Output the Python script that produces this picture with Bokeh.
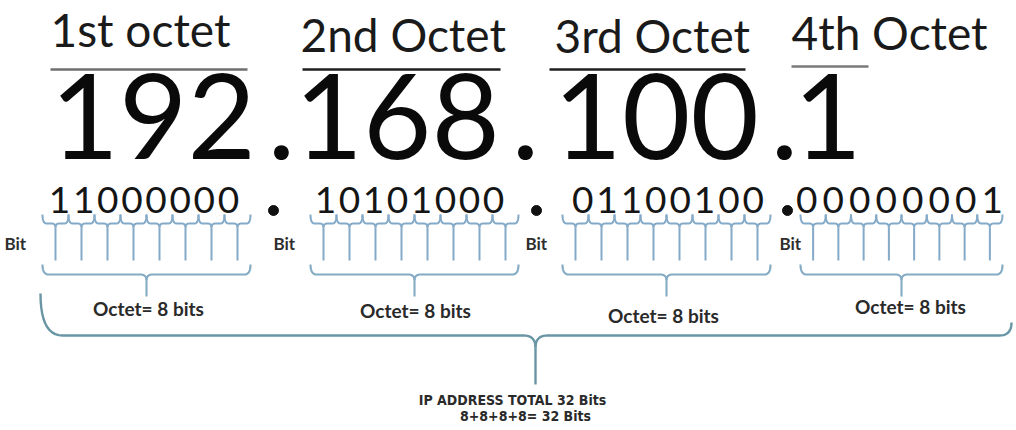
import numpy as np
from bokeh.plotting import figure
from bokeh.models import Range1d
from bokeh.core.properties import value
from bokeh.embed import file_html
from bokeh.resources import INLINE

# ---------------- data ----------------
octet_labels = ["1st octet", "2nd Octet", "3rd Octet", "4th Octet"]
decimal_values = ["192", "168", "100", "1"]
binary_values = ["11000000", "10101000", "01100100", "00000001"]
bit_label = "Bit"
octet_caption = "Octet= 8 bits"
total_line1 = "IP ADDRESS TOTAL 32 Bits"
total_line2 = "8+8+8+8= 32 Bits"

# ---------------- layout (reference pixel coordinates, measured from top) ----------------
label_x = [50, 300, 554, 791]
label_base = [47, 52, 53, 50]
underline_x0 = [50, 302, 549, 791]
underline_x1 = [247, 500, 745, 868]
underline_y = [69, 69, 69, 66]
underline_col = ["#6f6f6f", "#1e1e1e", "#1e1e1e", "#7a7a7a"]

dec_x = [50, 294, 553, 793]
dot_x = [267, 511, 770]
dec_base = 158

bin_x0 = [47, 313, 570, 793]
bin_x1 = [240, 505, 765, 1005]
bin_base = 213
bin_dot_x = [273, 536, 787]
bin_dot_y = 210

brace_x0 = [42, 310, 562, 800]
brace_x1 = [250, 518, 770, 1002]
bitlab_x = [4, 273, 525, 779]
cap_x = [148, 415, 663, 910]
cap_y = [308, 310, 315, 306]

W, H = 1016, 430


def Y(v):
    """reference pixel row -> data y (data y grows upward)"""
    return (H - np.asarray(v, dtype=float)).tolist()


def mid(base, size, k=0.36):
    """baseline row -> row of the visual middle of the capitals"""
    return [b - k * size for b in np.atleast_1d(base)]


p = figure(width=W, height=H, output_backend="svg", toolbar_location=None,
           x_range=Range1d(0, W), y_range=Range1d(0, H),
           min_border=0, background_fill_color="white", border_fill_color="white")
p.xaxis.visible = False
p.yaxis.visible = False
p.grid.visible = False
p.outline_line_color = None


def qbez(p0, c, p1, n=12):
    t = np.linspace(0, 1, n)
    x = (1 - t) ** 2 * p0[0] + 2 * (1 - t) * t * c[0] + t ** 2 * p1[0]
    y = (1 - t) ** 2 * p0[1] + 2 * (1 - t) * t * c[1] + t ** 2 * p1[1]
    return list(x), list(y)


def brace(x0, x1, xm, yt0, yt1, ybar, ystem, re0, re1, rm):
    xs, ys = [], []
    for seg in [
        qbez((x0, yt0), (x0, ybar), (x0 + re0, ybar)),
        ([x0 + re0, xm - rm], [ybar, ybar]),
        qbez((xm - rm, ybar), (xm, ybar), (xm, ybar + rm)),
    ]:
        xs += seg[0]; ys += seg[1]
    xs2, ys2 = [], []
    for seg in [
        qbez((xm, ybar + rm), (xm, ybar), (xm + rm, ybar)),
        ([xm + rm, x1 - re1], [ybar, ybar]),
        qbez((x1 - re1, ybar), (x1, ybar), (x1, yt1)),
    ]:
        xs2 += seg[0]; ys2 += seg[1]
    return [xs, xs2, [xm, xm]], [Y(ys), Y(ys2), Y([ybar + rm, ystem])]


bxs, bys = [], []
oxs, oys = [], []
for k in range(4):
    L, R = brace_x0[k], brace_x1[k]
    w = (R - L) / 8
    for i in range(8):
        a = L + i * w
        xs, ys = brace(a, a + w, a + w / 2, 214, 214, 223, 260, 4, 4, 4)
        bxs += xs; bys += ys
    xs, ys = brace(L, R, (L + R) / 2, 264, 264, 274, 296, 6, 6, 6)
    oxs += xs; oys += ys

p.multi_line(bxs, bys, line_color="#84aac8", line_width=2.0)
p.multi_line(oxs, oys, line_color="#84abc4", line_width=2.1)

gxs, gys = brace(40, 1011, 535, 293, 322, 335, 384, 22, 12, 12)
p.multi_line(gxs, gys, line_color="#6996a4", line_width=2.4)

FONT = value("Lato")

# octet labels and underlines
LS = 46
p.text(x=label_x, y=Y(mid(label_base, LS, 0.40)), text=octet_labels, text_font=FONT,
       text_font_size=value(f"{LS}px"), text_color="#1a1a1a", text_baseline="middle")
p.segment(x0=underline_x0, y0=Y(underline_y), x1=underline_x1, y1=Y(underline_y),
          line_color=underline_col, line_width=2.5)

# decimal numbers
DS = 118
p.text(x=dec_x, y=Y(mid([dec_base] * 4, DS)), text=decimal_values, text_font=FONT,
       text_font_size=value(f"{DS}px"), text_color="#0a0a0a", text_baseline="middle")
p.text(x=dot_x, y=Y(mid([dec_base] * 3, DS)), text=["."] * 3, text_font=FONT,
       text_font_size=value(f"{DS}px"), text_color="#0a0a0a", text_baseline="middle")

# binary digits
BS = 37
dx, dy, dt = [], [], []
for k in range(4):
    pitch = (bin_x1[k] - bin_x0[k]) / 8
    for i, ch in enumerate(binary_values[k]):
        dx.append(bin_x0[k] + (i + 0.5) * pitch)
        dy.append(bin_base)
        dt.append(ch)
p.text(x=dx, y=Y(mid(dy, BS)), text=dt, text_font=FONT, text_font_size=value(f"{BS}px"),
       text_color="#151515", text_align="center", text_baseline="middle")
p.scatter(x=bin_dot_x, y=Y([bin_dot_y] * 3), size=10, color="#111111")

# bit labels & captions
p.text(x=bitlab_x, y=Y([243] * 4), text=[bit_label] * 4, text_font=FONT,
       text_font_style="bold", text_font_size=value("17px"), text_color="#2e2e2e",
       text_baseline="middle")
p.text(x=cap_x, y=Y(cap_y), text=[octet_caption] * 4, text_font=FONT,
       text_font_style="bold", text_font_size=value("19px"), text_color="#2a2a2a",
       text_align="center", text_baseline="middle")

p.text(x=[512, 525], y=Y([399, 415]), text=[total_line1, total_line2],
       text_font=value("'DejaVu Sans Condensed', 'Noto Sans Condensed', Lato"),
       text_font_style="bold", text_font_size=value("14px"), text_color="#2a2a2a",
       text_align="center", text_baseline="middle")

open("out.html", "w").write(file_html(p, INLINE))
